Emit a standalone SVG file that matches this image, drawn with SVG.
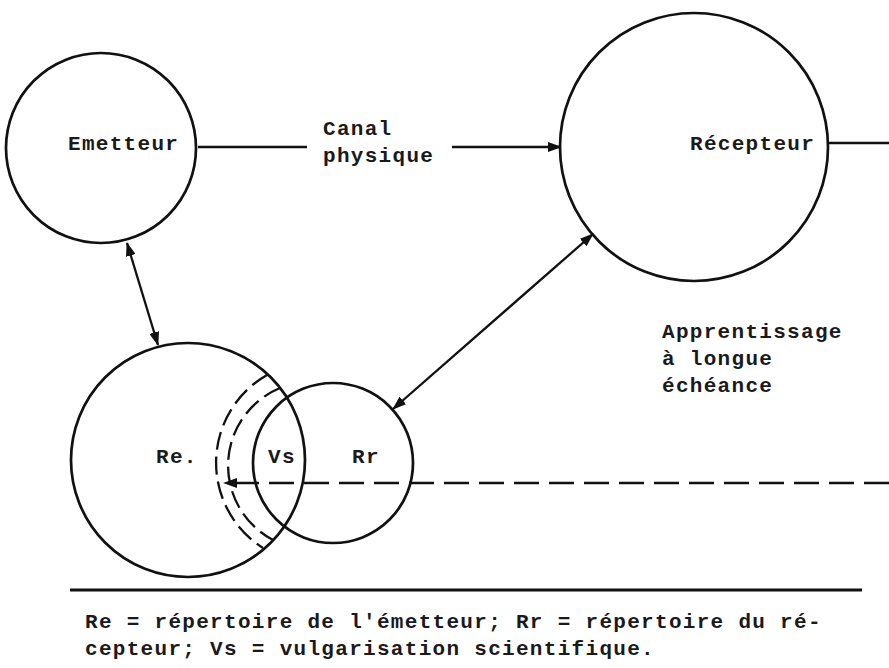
<svg xmlns="http://www.w3.org/2000/svg" width="889" height="668" viewBox="0 0 889 668">
<style>
.node{fill:none;stroke:#111;stroke-width:2.7}
.ln{fill:none;stroke:#111;stroke-width:2.3}
.dash{fill:none;stroke:#111;stroke-width:2.6;stroke-dasharray:25 10}
.darc{fill:none;stroke:#111;stroke-width:2.3;stroke-dasharray:18 7}
text{font-family:"Liberation Mono","DejaVu Sans Mono",monospace;font-size:21px;letter-spacing:1.3px;fill:#1a1a1a;font-weight:bold}
</style>
<defs>
<marker id="ah" markerUnits="userSpaceOnUse" markerWidth="14" markerHeight="10" refX="13" refY="5" orient="auto-start-reverse">
<path d="M0,0 L14,5 L0,10 z" fill="#111"/>
</marker>
</defs>
<rect width="889" height="668" fill="#fff"/>
<g id="emetteur">
<circle class="node" cx="101" cy="148" r="95"/>
<text x="68" y="150">Emetteur</text>
</g>
<g id="recepteur">
<circle class="node" cx="694" cy="147" r="134"/>
<text x="690" y="150">Récepteur</text>
</g>
<g id="re">
<circle class="node" cx="188" cy="460" r="117"/>
<text x="156" y="463">Re.</text>
</g>
<g id="rr">
<circle class="node" cx="333" cy="463" r="80"/>
<text x="352" y="463">Rr</text>
</g>
<g id="vs">
<path class="darc" d="M267,375 A101,101 0 0 0 263,548"/>
<path class="darc" d="M280,388 A84,84 0 0 0 273,540"/>
<text x="268" y="463">Vs</text>
</g>
<g id="connectors">
<line class="ln" x1="198" y1="147" x2="307" y2="147"/>
<line class="ln" x1="452" y1="147" x2="561" y2="147" marker-end="url(#ah)"/>
<line class="ln" x1="828" y1="143" x2="889" y2="143"/>
<line class="ln" x1="127" y1="243" x2="158" y2="345" marker-start="url(#ah)" marker-end="url(#ah)"/>
<line class="ln" x1="393" y1="409" x2="593" y2="234" marker-start="url(#ah)" marker-end="url(#ah)"/>
<line class="dash" x1="889" y1="483" x2="224" y2="483" marker-end="url(#ah)"/>
</g>
<g id="labels">
<text x="323" y="135">Canal</text>
<text x="323" y="162">physique</text>
<text x="662" y="338">Apprentissage</text>
<text x="662" y="365">à longue</text>
<text x="662" y="392">échéance</text>
</g>
<g id="legend">
<line x1="70" y1="590" x2="862" y2="590" stroke="#111" stroke-width="3"/>
<text x="85" y="628">Re = répertoire de l'émetteur; Rr = répertoire du ré-</text>
<text x="85" y="655">cepteur; Vs = vulgarisation scientifique.</text>
</g>
</svg>
